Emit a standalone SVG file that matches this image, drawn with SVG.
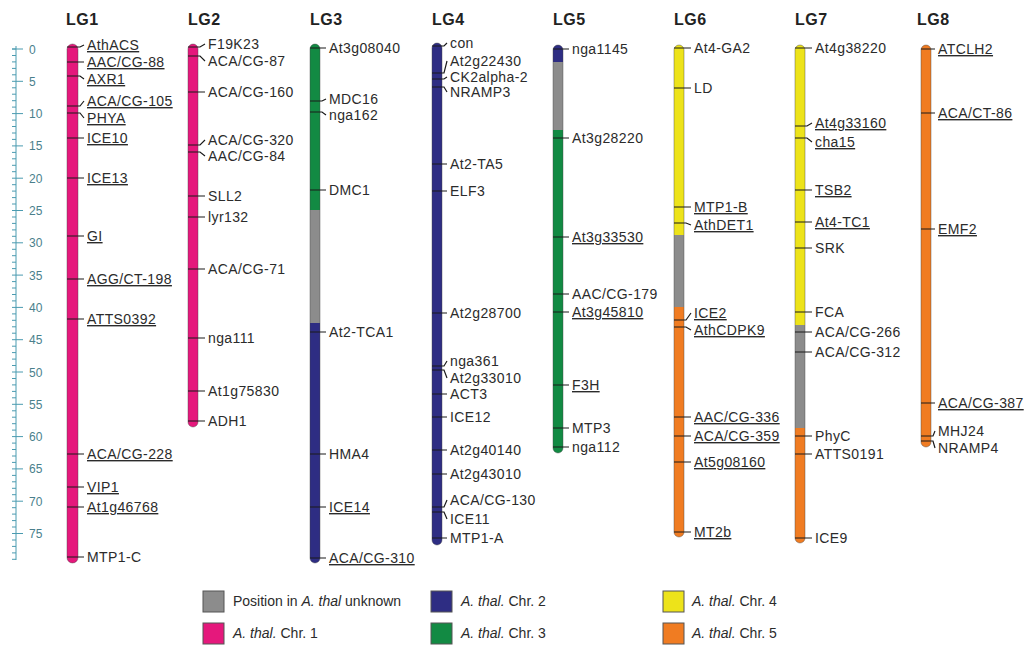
<svg xmlns="http://www.w3.org/2000/svg" width="1024" height="650" viewBox="0 0 1024 650">
<style>
.bg{fill:#ffffff}
.hd{font-family:"Liberation Sans",Arial,sans-serif;font-size:16px;font-weight:bold;fill:#222;letter-spacing:0.5px}
.lb{font-family:"Liberation Sans",Arial,sans-serif;font-size:14px;fill:#2b2b2b;letter-spacing:0.4px}
.u{text-decoration:underline}
.rn{font-family:"Liberation Sans",Arial,sans-serif;font-size:12px;fill:#4a7f8c}
.rl{stroke:#4a9bb0;stroke-width:1;fill:none}
.tk{stroke:#1a1a1a;stroke-width:1.2;fill:none}
.ol{fill:none;stroke:#444;stroke-width:0.7;stroke-opacity:0.6}
.c1{fill:#e5187c}.c2{fill:#2e2d83}.c3{fill:#128a43}.c4{fill:#ede31a}.c5{fill:#f07c22}.cu{fill:#8c8c8c}
.lg{font-family:"Liberation Sans",Arial,sans-serif;font-size:14px;fill:#2b2b2b}
.bx{stroke:#555;stroke-width:1}
</style>
<defs>
<clipPath id="k3"><rect x="310" y="44" width="10" height="519" rx="5"/></clipPath>
<clipPath id="k5"><rect x="553" y="45" width="10" height="408" rx="5"/></clipPath>
<clipPath id="k6"><rect x="674" y="45" width="10" height="492" rx="5"/></clipPath>
<clipPath id="k7"><rect x="795" y="45" width="10" height="498" rx="5"/></clipPath>
</defs>
<rect class="bg" x="0" y="0" width="1024" height="650"/>

<g id="ruler">
<path class="rl" d="M16 46V560"/>
<path class="rl" d="M12 49H16M12 55.5H16M12 61.9H16M12 68.4H16M12 74.8H16M12 87.8H16M12 94.2H16M12 100.7H16M12 107.1H16M12 120.1H16M12 126.5H16M12 133H16M12 139.4H16M12 152.4H16M12 158.8H16M12 165.3H16M12 171.7H16M12 184.7H16M12 191.1H16M12 197.6H16M12 204H16M12 217H16M12 223.4H16M12 229.9H16M12 236.3H16M12 249.3H16M12 255.7H16M12 262.2H16M12 268.6H16M12 281.6H16M12 288H16M12 294.5H16M12 300.9H16M12 313.9H16M12 320.3H16M12 326.8H16M12 333.2H16M12 346.2H16M12 352.6H16M12 359.1H16M12 365.5H16M12 378.5H16M12 384.9H16M12 391.4H16M12 397.8H16M12 410.8H16M12 417.2H16M12 423.7H16M12 430.1H16M12 443.1H16M12 449.5H16M12 456H16M12 462.4H16M12 475.4H16M12 481.8H16M12 488.3H16M12 494.7H16M12 507.7H16M12 514.1H16M12 520.6H16M12 527H16M12 540H16M12 546.4H16M12 552.9H16M12 559.3H16"/>
<path class="rl" d="M12 49H23M12 81.3H23M12 113.6H23M12 145.9H23M12 178.2H23M12 210.5H23M12 242.8H23M12 275.1H23M12 307.4H23M12 339.7H23M12 372H23M12 404.3H23M12 436.6H23M12 468.9H23M12 501.2H23M12 533.5H23"/>
<text class="rn" x="29" y="53.5">0</text>
<text class="rn" x="29" y="85.8">5</text>
<text class="rn" x="29" y="118.1">10</text>
<text class="rn" x="29" y="150.4">15</text>
<text class="rn" x="29" y="182.7">20</text>
<text class="rn" x="29" y="215">25</text>
<text class="rn" x="29" y="247.3">30</text>
<text class="rn" x="29" y="279.6">35</text>
<text class="rn" x="29" y="311.9">40</text>
<text class="rn" x="29" y="344.2">45</text>
<text class="rn" x="29" y="376.5">50</text>
<text class="rn" x="29" y="408.8">55</text>
<text class="rn" x="29" y="441.1">60</text>
<text class="rn" x="29" y="473.4">65</text>
<text class="rn" x="29" y="505.7">70</text>
<text class="rn" x="29" y="538">75</text>
</g>

<g id="LG1">
<text class="hd" x="66" y="25">LG1</text>
<rect class="c1" x="67" y="44" width="11" height="519" rx="5.5"/>
<rect class="ol" x="67" y="44" width="11" height="519" rx="5.5"/>
<text class="lb u" x="87" y="50">AthACS</text>
<text class="lb u" x="87" y="67">AAC/CG-88</text>
<text class="lb u" x="87" y="84">AXR1</text>
<text class="lb u" x="87" y="106">ACA/CG-105</text>
<text class="lb u" x="87" y="123">PHYA</text>
<text class="lb u" x="87" y="143">ICE10</text>
<text class="lb u" x="87" y="183">ICE13</text>
<text class="lb u" x="87" y="241">GI</text>
<text class="lb u" x="87" y="284">AGG/CT-198</text>
<text class="lb u" x="87" y="324">ATTS0392</text>
<text class="lb u" x="87" y="459">ACA/CG-228</text>
<text class="lb u" x="87" y="492">VIP1</text>
<text class="lb u" x="87" y="512">At1g46768</text>
<text class="lb" x="87" y="562">MTP1-C</text>
</g>

<g id="LG2">
<text class="hd" x="188" y="25">LG2</text>
<rect class="c1" x="188" y="44" width="10" height="383" rx="5"/>
<rect class="ol" x="188" y="44" width="10" height="383" rx="5"/>
<text class="lb" x="208" y="49">F19K23</text>
<text class="lb" x="208" y="66">ACA/CG-87</text>
<text class="lb" x="208" y="97">ACA/CG-160</text>
<text class="lb" x="208" y="145">ACA/CG-320</text>
<text class="lb" x="208" y="161">AAC/CG-84</text>
<text class="lb" x="208" y="201">SLL2</text>
<text class="lb" x="208" y="222">lyr132</text>
<text class="lb" x="208" y="274">ACA/CG-71</text>
<text class="lb" x="208" y="343">nga111</text>
<text class="lb" x="208" y="396">At1g75830</text>
<text class="lb" x="208" y="426">ADH1</text>
</g>

<g id="LG3">
<text class="hd" x="310" y="25">LG3</text>
<g clip-path="url(#k3)">
<rect class="c3" x="310" y="44" width="10" height="166"/>
<rect class="cu" x="310" y="210" width="10" height="113"/>
<rect class="c2" x="310" y="323" width="10" height="240"/>
</g>
<rect class="ol" x="310" y="44" width="10" height="519" rx="5"/>
<text class="lb" x="329" y="53">At3g08040</text>
<text class="lb" x="329" y="104">MDC16</text>
<text class="lb" x="329" y="120">nga162</text>
<text class="lb" x="329" y="195">DMC1</text>
<text class="lb" x="329" y="337">At2-TCA1</text>
<text class="lb" x="329" y="459">HMA4</text>
<text class="lb u" x="329" y="512">ICE14</text>
<text class="lb u" x="329" y="563">ACA/CG-310</text>
</g>

<g id="LG4">
<text class="hd" x="432" y="25">LG4</text>
<rect class="c2" x="432" y="43" width="10" height="502" rx="5"/>
<rect class="ol" x="432" y="43" width="10" height="502" rx="5"/>
<text class="lb" x="450" y="48">con</text>
<text class="lb" x="450" y="66">At2g22430</text>
<text class="lb" x="450" y="82">CK2alpha-2</text>
<text class="lb" x="450" y="97">NRAMP3</text>
<text class="lb" x="450" y="169">At2-TA5</text>
<text class="lb" x="450" y="196">ELF3</text>
<text class="lb" x="450" y="318">At2g28700</text>
<text class="lb" x="450" y="366">nga361</text>
<text class="lb" x="450" y="383">At2g33010</text>
<text class="lb" x="450" y="399">ACT3</text>
<text class="lb" x="450" y="422">ICE12</text>
<text class="lb" x="450" y="455">At2g40140</text>
<text class="lb" x="450" y="479">At2g43010</text>
<text class="lb" x="450" y="505">ACA/CG-130</text>
<text class="lb" x="450" y="524">ICE11</text>
<text class="lb" x="450" y="543">MTP1-A</text>
</g>

<g id="LG5">
<text class="hd" x="553" y="25">LG5</text>
<g clip-path="url(#k5)">
<rect class="c2" x="553" y="45" width="10" height="17"/>
<rect class="cu" x="553" y="62" width="10" height="68"/>
<rect class="c3" x="553" y="130" width="10" height="323"/>
</g>
<rect class="ol" x="553" y="45" width="10" height="408" rx="5"/>
<text class="lb" x="572" y="54">nga1145</text>
<text class="lb" x="572" y="143">At3g28220</text>
<text class="lb u" x="572" y="242">At3g33530</text>
<text class="lb" x="572" y="299">AAC/CG-179</text>
<text class="lb u" x="572" y="317">At3g45810</text>
<text class="lb u" x="572" y="390">F3H</text>
<text class="lb" x="572" y="433">MTP3</text>
<text class="lb" x="572" y="452">nga112</text>
</g>

<g id="LG6">
<text class="hd" x="674" y="25">LG6</text>
<g clip-path="url(#k6)">
<rect class="c4" x="674" y="45" width="10" height="190"/>
<rect class="cu" x="674" y="235" width="10" height="72"/>
<rect class="c5" x="674" y="307" width="10" height="230"/>
</g>
<rect class="ol" x="674" y="45" width="10" height="492" rx="5"/>
<text class="lb" x="694" y="53">At4-GA2</text>
<text class="lb" x="694" y="93">LD</text>
<text class="lb u" x="694" y="212">MTP1-B</text>
<text class="lb u" x="694" y="230">AthDET1</text>
<text class="lb u" x="694" y="318">ICE2</text>
<text class="lb u" x="694" y="335">AthCDPK9</text>
<text class="lb u" x="694" y="422">AAC/CG-336</text>
<text class="lb u" x="694" y="441">ACA/CG-359</text>
<text class="lb u" x="694" y="467">At5g08160</text>
<text class="lb u" x="694" y="537">MT2b</text>
</g>

<g id="LG7">
<text class="hd" x="795" y="25">LG7</text>
<g clip-path="url(#k7)">
<rect class="c4" x="795" y="45" width="10" height="280"/>
<rect class="cu" x="795" y="325" width="10" height="103"/>
<rect class="c5" x="795" y="428" width="10" height="115"/>
</g>
<rect class="ol" x="795" y="45" width="10" height="498" rx="5"/>
<text class="lb" x="815" y="53">At4g38220</text>
<text class="lb u" x="815" y="128">At4g33160</text>
<text class="lb u" x="815" y="147">cha15</text>
<text class="lb u" x="815" y="195">TSB2</text>
<text class="lb u" x="815" y="227">At4-TC1</text>
<text class="lb" x="815" y="253">SRK</text>
<text class="lb" x="815" y="317">FCA</text>
<text class="lb" x="815" y="337">ACA/CG-266</text>
<text class="lb" x="815" y="357">ACA/CG-312</text>
<text class="lb" x="815" y="441">PhyC</text>
<text class="lb" x="815" y="459">ATTS0191</text>
<text class="lb" x="815" y="543">ICE9</text>
</g>

<g id="LG8">
<text class="hd" x="917" y="25">LG8</text>
<rect class="c5" x="921" y="45" width="10" height="402" rx="5"/>
<rect class="ol" x="921" y="45" width="10" height="402" rx="5"/>
<text class="lb u" x="938" y="54">ATCLH2</text>
<text class="lb u" x="938" y="118">ACA/CT-86</text>
<text class="lb u" x="938" y="234">EMF2</text>
<text class="lb u" x="938" y="408">ACA/CG-387</text>
<text class="lb" x="938" y="436">MHJ24</text>
<text class="lb" x="938" y="453">NRAMP4</text>
</g>

<g id="connectors">
<path class="tk" d="M67 47H80L84 45M67 62H84M67 76H80L84 79M67 106H80L84 101M67 113H80L84 118M67 138H84M67 178H84M67 236H84M67 279H84M67 319H84M67 454H84M67 487H84M67 507H84M67 557H84"/>
<path class="tk" d="M188 47H200L205 44M188 56H200L205 61M188 92H205M188 145H200L205 140M188 152H200L205 156M188 196H205M188 217H205M188 269H205M188 338H205M188 391H205M188 421H205"/>
<path class="tk" d="M310 48H326M310 101H322L326 99M310 112H322L326 115M310 190H326M310 332H326M310 454H326M310 507H326M310 558H326"/>
<path class="tk" d="M432 46H444L447 43M432 73H444L447 61M432 79H444L447 77M432 87H444L447 92M432 164H447M432 191H447M432 313H447M432 366H444L447 361M432 370H444L447 378M432 394H447M432 417H447M432 450H447M432 474H447M432 507H444L447 500M432 512H444L447 519M432 538H447"/>
<path class="tk" d="M553 49H569M553 138H569M553 237H569M553 294H569M553 312H569M553 385H569M553 428H569M553 447H569"/>
<path class="tk" d="M674 48H691M674 88H691M674 207H691M674 223H686L691 225M674 320H686L691 313M674 327H686L691 330M674 417H691M674 436H691M674 462H691M674 532H691"/>
<path class="tk" d="M795 48H812M795 126H807L812 123M795 138H807L812 142M795 190H812M795 222H812M795 248H812M795 312H812M795 332H812M795 352H812M795 436H812M795 454H812M795 538H812"/>
<path class="tk" d="M921 49H935M921 113H935M921 229H935M921 403H935M921 436H933L935 431M921 441H933L935 448"/>
</g>

<g id="legend">
<rect class="cu bx" x="203" y="591" width="21" height="21"/>
<text class="lg" x="233" y="606">Position in <tspan font-style="italic">A. thal</tspan> unknown</text>
<rect class="c1 bx" x="203" y="623" width="21" height="21"/>
<text class="lg" x="233" y="638"><tspan font-style="italic">A. thal.</tspan> Chr. 1</text>
<rect class="c2 bx" x="431" y="591" width="21" height="21"/>
<text class="lg" x="461" y="606"><tspan font-style="italic">A. thal.</tspan> Chr. 2</text>
<rect class="c3 bx" x="431" y="623" width="21" height="21"/>
<text class="lg" x="461" y="638"><tspan font-style="italic">A. thal.</tspan> Chr. 3</text>
<rect class="c4 bx" x="663" y="591" width="21" height="21"/>
<text class="lg" x="692" y="606"><tspan font-style="italic">A. thal.</tspan> Chr. 4</text>
<rect class="c5 bx" x="663" y="623" width="21" height="21"/>
<text class="lg" x="692" y="638"><tspan font-style="italic">A. thal.</tspan> Chr. 5</text>
</g>
</svg>
